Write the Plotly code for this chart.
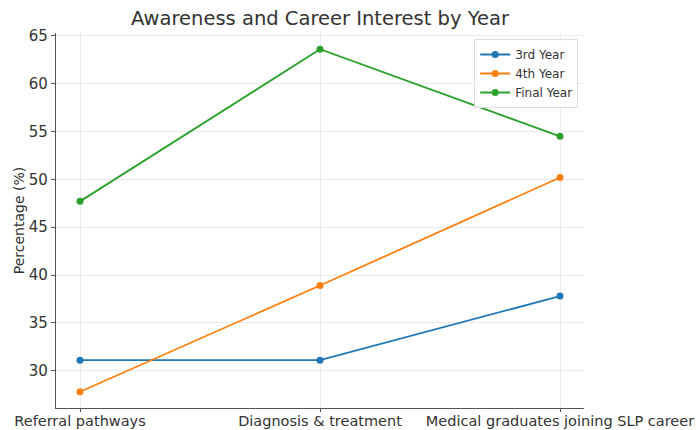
import plotly.graph_objects as go

# Survey categories and percentage values per study year
categories = ["Referral pathways", "Diagnosis & treatment", "Medical graduates joining SLP career"]
third_year = [31.1, 31.1, 37.8]
fourth_year = [27.8, 38.9, 50.2]
final_year = [47.7, 63.6, 54.5]
series_names = ["3rd Year", "4th Year", "Final Year"]
colors = ["#1f77b4", "#ff7f0e", "#2ca02c"]

fig = go.Figure()
for name, vals, col in zip(series_names, [third_year, fourth_year, final_year], colors):
    fig.add_trace(go.Scatter(
        x=list(range(len(categories))), y=vals, name=name,
        mode="lines+markers",
        line=dict(color=col, width=1.8),
        marker=dict(color=col, size=7),
    ))

font_family = "DejaVu Sans, sans-serif"
fig.update_layout(
    width=696, height=430,
    margin=dict(l=56, r=112, t=33, b=22),
    paper_bgcolor="white", plot_bgcolor="white",
    font=dict(family=font_family, color="#333333", size=14),
    title=dict(text="Awareness and Career Interest by Year", x=320 / 696, xanchor="center",
               y=1 - 18 / 430, yanchor="middle", font=dict(size=19.5, color="#333333")),
    showlegend=True,
    legend=dict(x=0.989, xanchor="right", y=0.984, yanchor="top",
                bgcolor="rgba(255,255,255,0.9)", bordercolor="#dddddd", borderwidth=1,
                font=dict(size=12, color="#333333"), itemwidth=30,
                tracegroupgap=0),
)
fig.update_xaxes(
    range=[-0.1, 2.1],
    tickmode="array", tickvals=list(range(len(categories))), ticktext=categories,
    showgrid=True, gridcolor="#ebebeb", gridwidth=1,
    showline=True, linecolor="#555555", linewidth=1.2,
    ticks="outside", ticklen=3, tickcolor="#555555",
    tickfont=dict(size=14.5), ticklabelstandoff=-4, ticklabeloverflow="allow",
    automargin=False, zeroline=False,
)
fig.update_yaxes(
    range=[26.1, 65.3],
    tickmode="array", tickvals=[30, 35, 40, 45, 50, 55, 60, 65],
    showgrid=True, gridcolor="#ebebeb", gridwidth=1,
    showline=True, linecolor="#555555", linewidth=1.2,
    ticks="outside", ticklen=4, tickcolor="#555555",
    tickfont=dict(size=15), automargin=False, zeroline=False,
    title=dict(text="Percentage (%)", font=dict(size=14), standoff=0),
)

fig.write_html("out.html")
